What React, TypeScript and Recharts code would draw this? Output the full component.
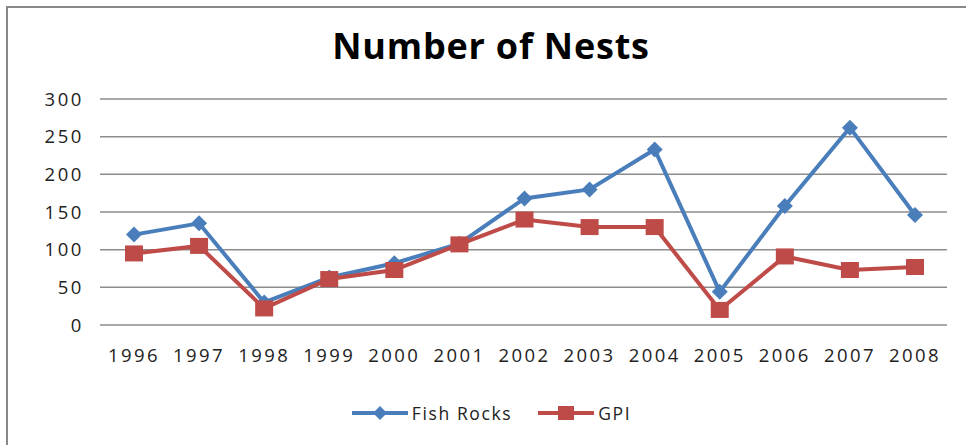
import React from 'react'
import { LineChart, Line, XAxis, YAxis, CartesianGrid, Legend } from 'recharts'

const years = ['1996', '1997', '1998', '1999', '2000', '2001', '2002', '2003', '2004', '2005', '2006', '2007', '2008']
const fishRocks = [120, 135, 30, 63, 82, 108, 168, 180, 233, 44, 158, 262, 146]
const gpi = [95, 105, 22, 61, 73, 107, 140, 130, 130, 20, 91, 73, 77]
const yTicks = [0, 50, 100, 150, 200, 250, 300]

const data = years.map((year, i) => ({ year, fishRocks: fishRocks[i], gpi: gpi[i] }))

const BLUE = '#4a7ebb'
const RED = '#be4b48'
const FONT = '"Open Sans", sans-serif'

const Diamond = ({ cx, cy }: any) => {
  if (cx == null || cy == null) return null
  return <polygon points={`${cx},${cy - 8} ${cx + 8},${cy} ${cx},${cy + 8} ${cx - 8},${cy}`} fill={BLUE} />
}

const Square = ({ cx, cy }: any) => {
  if (cx == null || cy == null) return null
  return <rect x={cx - 9} y={cy - 8} width={18} height={16} fill={RED} />
}

const LegendBox = () => (
  <div style={{ display: 'flex', justifyContent: 'center', alignItems: 'center', height: 24, marginLeft: 36, fontFamily: FONT, fontSize: 17.5, letterSpacing: 1.6, color: '#222' }}>
    <svg width={56} height={16} style={{ marginRight: 4 }}>
      <line x1={0} y1={8} x2={56} y2={8} stroke={BLUE} strokeWidth={4} />
      <polygon points="28,1 35,8 28,15 21,8" fill={BLUE} />
    </svg>
    <span style={{ marginRight: 26 }}>Fish Rocks</span>
    <svg width={56} height={16} style={{ marginRight: 4 }}>
      <line x1={0} y1={8} x2={56} y2={8} stroke={RED} strokeWidth={4} />
      <rect x={20} y={1} width={16} height={14} fill={RED} />
    </svg>
    <span>GPI</span>
  </div>
)

export default function App() {
  return (
    <div style={{ position: 'absolute', left: 0, top: 0, width: 966, height: 445, background: '#fff' }}>
      <div style={{ position: 'absolute', left: 6, top: 6, width: 960, height: 439, borderTop: '2px solid #888', borderLeft: '2px solid #888' }} />
      <div style={{ position: 'absolute', left: 291, width: 400, top: 24, textAlign: 'center', fontFamily: FONT, fontWeight: 700, fontSize: 36, letterSpacing: 0.8, lineHeight: '44px', color: '#000' }}>
        Number of Nests
      </div>
      <div style={{ position: 'absolute', left: 0, top: 0 }}>
        <LineChart width={966} height={445} data={data} margin={{ top: 99, right: 19, bottom: 0, left: 0 }}>
          <CartesianGrid horizontal vertical={false} stroke="#8c8c8c" strokeWidth={1.5} />
          <XAxis
            dataKey="year"
            axisLine={false}
            tickLine={false}
            tickMargin={18}
            height={96}
            interval={0}
            padding={{ left: 34, right: 32 }}
            tick={{ fill: '#222', fontSize: 18.5, fontFamily: FONT, letterSpacing: 2.4 }}
          />
          <YAxis
            domain={[0, 300]}
            ticks={yTicks}
            axisLine={false}
            tickLine={false}
            tickMargin={10}
            width={100}
            tick={{ fill: '#222', fontSize: 18.5, fontFamily: FONT, letterSpacing: 2.6 }}
          />
          <Legend verticalAlign="bottom" height={24} content={<LegendBox />} wrapperStyle={{ bottom: 20 }} />
          <Line type="linear" dataKey="fishRocks" name="Fish Rocks" stroke={BLUE} strokeWidth={4} dot={<Diamond />} isAnimationActive={false} />
          <Line type="linear" dataKey="gpi" name="GPI" stroke={RED} strokeWidth={4} dot={<Square />} isAnimationActive={false} />
        </LineChart>
      </div>
    </div>
  )
}
